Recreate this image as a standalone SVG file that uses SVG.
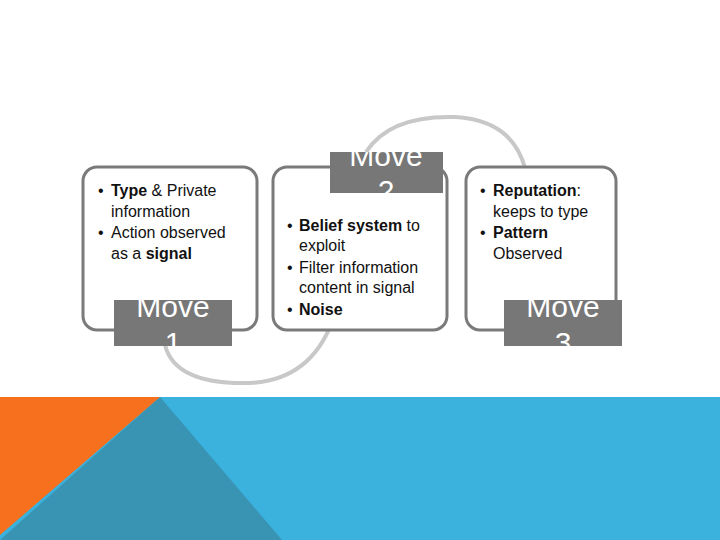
<svg xmlns="http://www.w3.org/2000/svg" width="720" height="540" viewBox="0 0 720 540">
<style>
.box{fill:#fff;stroke:#7a7a7a;stroke-width:3}
.lab{fill:#777}
.lt{font-family:"Liberation Sans",Arial,sans-serif;font-size:30px;fill:#fff;text-anchor:middle}
.t{font-family:"Liberation Sans",Arial,sans-serif;font-size:16px;fill:#111}
.b{font-weight:bold}
.arc{fill:none;stroke:#c8c8c8;stroke-width:4}
</style>
<defs>
<clipPath id="c1"><rect x="114" y="300" width="118" height="46"/></clipPath>
<clipPath id="c2"><rect x="330" y="152" width="113" height="41"/></clipPath>
<clipPath id="c3"><rect x="504" y="300" width="118" height="46"/></clipPath>
</defs>
<rect x="0" y="0" width="720" height="540" fill="#fff"/>
<g id="background">
<rect x="0" y="397" width="720" height="143" fill="#3bb1de"/>
<polygon points="160,397 0,540 282,540" fill="#3993b3"/>
<polygon points="0,397 160,397 0,535" fill="#f6701d"/>
</g>
<g id="connectors">
<path class="arc" d="M165,345 Q175,385 250,383 Q310,380 332,322"/>
<path class="arc" d="M366,152 Q390,115 455,117 Q512,120 525,168"/>
</g>
<g id="node1">
<rect class="box" x="83" y="167" width="174" height="163" rx="14"/>
<text class="t" x="98" y="196">•</text>
<text class="t" x="111" y="196"><tspan class="b">Type</tspan> &amp; Private</text>
<text class="t" x="111" y="217">information</text>
<text class="t" x="98" y="238">•</text>
<text class="t" x="111" y="238">Action observed</text>
<text class="t" x="111" y="259">as a <tspan class="b">signal</tspan></text>
<rect class="lab" x="114" y="300" width="118" height="46"/>
<g clip-path="url(#c1)"><text class="lt" x="173" y="317">Move</text><text class="lt" x="173" y="353">1</text></g>
</g>
<g id="node2">
<rect class="box" x="273" y="167" width="174" height="163" rx="14"/>
<rect class="lab" x="330" y="152" width="113" height="41"/>
<g clip-path="url(#c2)"><text class="lt" x="386" y="166">Move</text><text class="lt" x="386" y="201">2</text></g>
<text class="t" x="287" y="231">•</text>
<text class="t" x="299" y="231"><tspan class="b">Belief system</tspan> to</text>
<text class="t" x="299" y="251">exploit</text>
<text class="t" x="287" y="273">•</text>
<text class="t" x="299" y="273">Filter information</text>
<text class="t" x="299" y="293">content in signal</text>
<text class="t" x="287" y="315">•</text>
<text class="t b" x="299" y="315">Noise</text>
</g>
<g id="node3">
<rect class="box" x="466" y="167" width="150" height="163" rx="14"/>
<text class="t" x="480" y="196">•</text>
<text class="t" x="493" y="196"><tspan class="b">Reputation</tspan>:</text>
<text class="t" x="493" y="217">keeps to type</text>
<text class="t" x="480" y="238">•</text>
<text class="t b" x="493" y="238">Pattern</text>
<text class="t" x="493" y="259">Observed</text>
<rect class="lab" x="504" y="300" width="118" height="46"/>
<g clip-path="url(#c3)"><text class="lt" x="563" y="317">Move</text><text class="lt" x="563" y="353">3</text></g>
</g>
</svg>
